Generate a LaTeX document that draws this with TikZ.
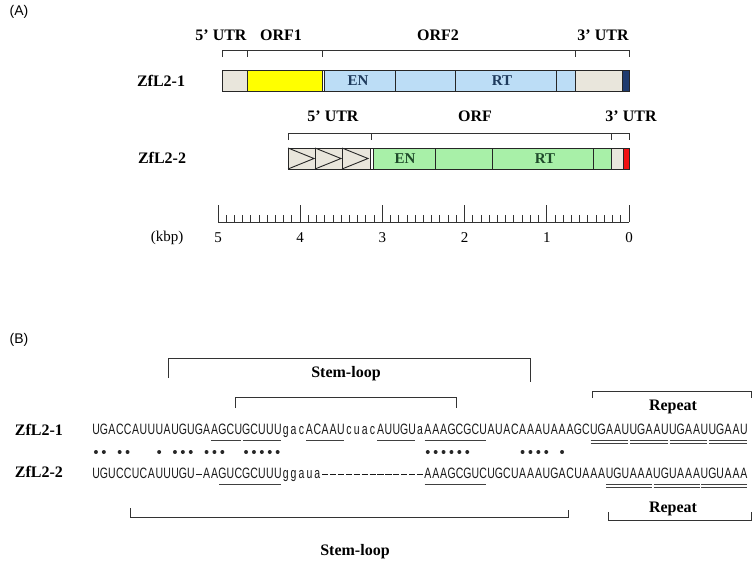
\documentclass[tikz,border=0pt]{standalone}
\usepackage{fontspec}
\setmainfont{Liberation Serif}
\newfontfamily\sansf{Liberation Sans}
\newfontfamily\seqf[FakeStretch=0.7]{Liberation Sans}
\definecolor{beige}{HTML}{E9E6DC}
\definecolor{orfyellow}{HTML}{FFFF00}
\definecolor{lblue}{HTML}{BCDDF6}
\definecolor{lgreen}{HTML}{A8F0A8}
\definecolor{endnavy}{HTML}{1F3B6E}
\definecolor{endred}{HTML}{F01010}
\definecolor{txtnavy}{HTML}{1E3A5C}
\definecolor{txtgreen}{HTML}{1E4A2A}
\newlength\seqpitch
\setlength\seqpitch{7.9pt}
\def\seqdash{-}
\def\seqrow#1{\seqloop#1\relax}
\def\seqloop#1{\ifx\relax#1\else
  \if-#1\makebox[\seqpitch][c]{\rule[3.6pt]{6.2pt}{0.9pt}}\else\makebox[\seqpitch][c]{#1}\fi
  \expandafter\seqloop\fi}
\tikzset{
  lab/.style={font=\fontsize{16}{18}\selectfont\bfseries, inner sep=0},
  panel/.style={font=\sansf\fontsize{14}{16}\selectfont, inner sep=0},
  num/.style={font=\fontsize{15}{17}\selectfont, inner sep=0},
  domlab/.style={font=\fontsize{15}{17}\selectfont\bfseries, inner sep=0},
  seg/.style={draw=black!85, line width=0.9pt},
  brk/.style={draw=black!80, line width=1pt},
  uline/.style={draw=black!75, line width=0.9pt},
  seqtxt/.style={font=\seqf\fontsize{15}{15}\selectfont, inner sep=0, anchor=base west, text=black!90},
}
\begin{document}
\begin{tikzpicture}[x=1pt,y=-1pt]
\useasboundingbox (0,0) rectangle (756,565);
% ---------------- Panel A ----------------
\node[panel] (pA) at (19,12) {(A)};
% ZfL2-1
\node[lab] (z1) at (161,80.5) {ZfL2-1};
\draw[brk] (222,57) -- (222,50) -- (629,50) -- (629,57);
\foreach \t in {247,322,575} \draw[brk] (\t,50) -- (\t,57);
\node[lab] (u5a) at (221,35) {5’ UTR};
\node[lab] (o1) at (281,35) {ORF1};
\node[lab] (o2) at (438,35) {ORF2};
\node[lab] (u3a) at (603,35) {3’ UTR};
\fill[beige] (222,70) rectangle (247,91);
\fill[orfyellow] (247,70) rectangle (322,91);
\fill[lblue] (324,70) rectangle (575,91);
\fill[beige] (575,70) rectangle (622,91);
\fill[endnavy] (622,70) rectangle (629,91);
\foreach \t in {247,322,324,395,455,556,575,622} \draw[seg] (\t,70) -- (\t,91);
\draw[seg] (222,70) rectangle (629,91);
\node[domlab, text=txtnavy] (en1) at (358,80.5) {EN};
\node[domlab, text=txtnavy] (rt1) at (502,80.5) {RT};
% ZfL2-2
\node[lab] (z2) at (162,158) {ZfL2-2};
\draw[brk] (288,140) -- (288,133) -- (629,133) -- (629,140);
\foreach \t in {371,611} \draw[brk] (\t,133) -- (\t,140);
\node[lab] (u5b) at (333,116) {5’ UTR};
\node[lab] (orf) at (475,116) {ORF};
\node[lab] (u3b) at (631,116) {3’ UTR};
\fill[beige] (288,148) rectangle (370,169);
\fill[lgreen] (373,148) rectangle (611,169);
\fill[beige] (611,148) rectangle (623,169);
\fill[endred] (623,148) rectangle (629,169);
\foreach \a/\b in {288/315,315/342,342/369}
  \draw[seg, line join=miter] (\a,148) -- (\b-1,158.5) -- (\a,169);
\foreach \t in {315,342,370,373,435,492,593,611,623} \draw[seg] (\t,148) -- (\t,169);
\draw[seg] (288,148) rectangle (629,169);
\node[domlab, text=txtgreen] (en2) at (405,159) {EN};
\node[domlab, text=txtgreen] (rt2) at (545,159) {RT};
% scale
\draw[brk] (218,222) -- (629,222);
\foreach \i in {0,...,50} {
  \pgfmathtruncatemacro\m{mod(\i,10)}
  \ifnum\m=0
    \draw[brk] (629-\i*8.22,222) -- (629-\i*8.22,205);
  \else
    \draw[brk] (629-\i*8.22,222) -- (629-\i*8.22,215);
  \fi
}
\foreach \k in {0,...,5} \node[num] (k\k) at (629-\k*82.2,238) {\k};
\node[num] (kbp) at (167,238) {(kbp)};
% ---------------- Panel B ----------------
\node[panel] (pB) at (19,340) {(B)};
% upper brackets
\draw[brk] (168,378) -- (168,358) -- (530,358) -- (530,382);
\node[lab] (sl1) at (346,374) {Stem-loop};
\draw[brk] (235,408) -- (235,397) -- (456,397) -- (456,408);
\draw[brk] (592,398) -- (592,391) -- (751,391) -- (751,398);
\node[lab] (rp1) at (673,407) {Repeat};
% sequences
\node[lab] (zb1) at (39,430) {ZfL2-1};
\node[lab] (zb2) at (39,472) {ZfL2-2};
\node[seqtxt] (s1) at (92,434) {\seqrow{UGACCAUUUAUGUGAAGCUGCUUUgacACAAUcuacAUUGUaAAAGCGCUAUACAAAUAAAGCUGAAUUGAAUUGAAUUGAAU}};
\node[seqtxt] (s2) at (92,478) {\seqrow{UGUCCUCAUUUGU-AAGUCGCUUUggaua-------------AAAGCGUCUGCUAAAUGACUAAAUGUAAAUGUAAAUGUAAA}};
% underlines row 1
\foreach \a/\b in {15/18,19/23,27/31,36/40,42/49}
  \draw[uline] (92+7.9*\a+0.8,440) -- (92+7.9*\b+7.1,440);
\foreach \a/\b in {63/67,68/72,73/77,78/82} {
  \draw[uline] (92+7.9*\a+0.8,440) -- (92+7.9*\b+7.1,440);
  \draw[uline] (92+7.9*\a+0.8,443) -- (92+7.9*\b+7.1,443);
}
% dots
\foreach \i in {0,1,3,4,8,10,11,12,14,15,16,19,20,21,22,23,42,43,44,45,46,47,54,55,56,57,59}
  \fill[black!85] (92+7.9*\i+3.95,452) circle (2pt);
% underlines row 2
\foreach \a/\b in {16/23,42/49}
  \draw[uline] (92+7.9*\a+0.8,484) -- (92+7.9*\b+7.1,484);
\foreach \a/\b in {65/70,71/76,77/82} {
  \draw[uline] (92+7.9*\a+0.8,484) -- (92+7.9*\b+7.1,484);
  \draw[uline] (92+7.9*\a+0.8,487) -- (92+7.9*\b+7.1,487);
}
% lower brackets
\draw[brk] (130,508) -- (130,517) -- (568,517) -- (568,510);
\node[lab] (sl2) at (355,552) {Stem-loop};
\draw[brk] (608,512) -- (608,520) -- (751,520) -- (751,512);
\node[lab] (rp2) at (673,509) {Repeat};
\end{tikzpicture}
\end{document}
